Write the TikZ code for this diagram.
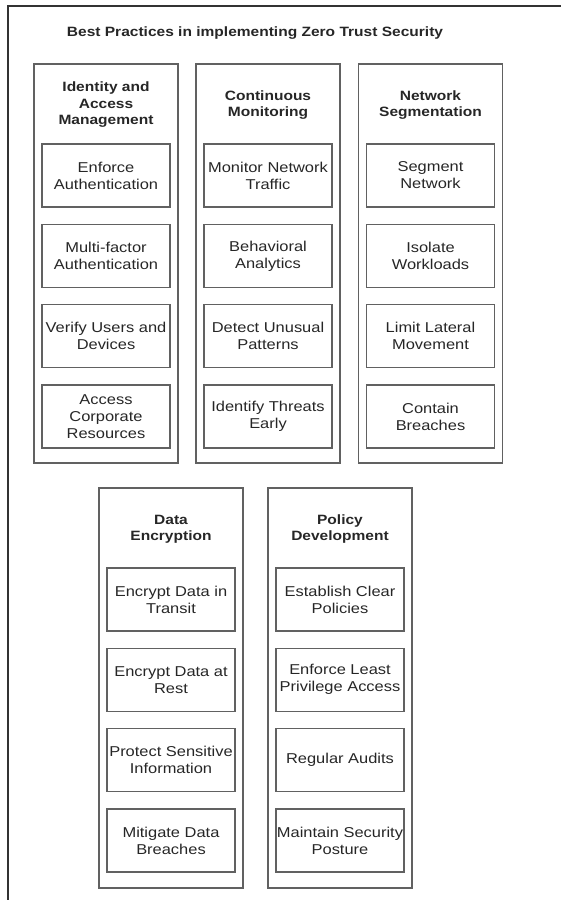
\documentclass[tikz,border=0pt]{standalone}
\usepackage{fontspec}
\setmainfont{Liberation Sans}[FakeStretch=1.15]
\usepackage{tikz}

\tikzset{
  group/.style={draw=black!62, line width=1.6pt, minimum width=144pt, minimum height=399pt, inner sep=0pt},
  item/.style={draw=black!62, line width=1.4pt, minimum width=128pt, minimum height=63pt,
    inner sep=0pt, align=center, text=black!85, font=\fontsize{14.3}{17}\selectfont},
  grouptitle/.style={align=center, text=black!85, font=\bfseries\fontsize{13.5}{16.5}\selectfont},
  maintitle/.style={text=black!85, font=\bfseries\fontsize{13.5}{16}\selectfont},
}

\begin{document}
\begin{tikzpicture}[x=1pt,y=-1pt]
		\useasboundingbox (0,0) rectangle (561,900);
		% spacing of the boxes inside a group
		\def\dy{80.3}
		\def\shift{424}
		
		% page frame (only top and left edge in view)
		\draw[line width=1.5pt, black!80] (561,6) -- (8,6) -- (8,900);
		\node[maintitle] (title) at (255,33) {Best Practices in implementing Zero Trust Security};
		
		% top row of groups
		\node[group] (iam) at (106,263.5) {};
		\node[group] (mon) at (268,263.5) {};
		\node[group] (seg) at (430.5,263.5) {};
		\node[grouptitle] (iamtitle) at (106,105) {Identity and\\Access\\Management};
		\node[grouptitle] (montitle) at (268,105) {Continuous\\Monitoring};
		\node[grouptitle] (segtitle) at (430.5,105) {Network\\Segmentation};
		
		\foreach \i/\txt in {1/{Enforce\\Authentication}, 2/{Multi-factor\\Authentication},
			3/{Verify Users and\\Devices}, 4/{Access\\Corporate\\Resources}}
		\node[item] (iam\i) at (106,{175.5+\dy*(\i-1)}) {\txt};
		\foreach \i/\txt in {1/{Monitor Network\\Traffic}, 2/{Behavioral\\Analytics},
			3/{Detect Unusual\\Patterns}, 4/{Identify Threats\\Early}}
		\node[item] (mon\i) at (268,{175.5+\dy*(\i-1)}) {\txt};
		\foreach \i/\txt in {1/{Segment\\Network}, 2/{Isolate\\Workloads},
			3/{Limit Lateral\\Movement}, 4/{Contain\\Breaches}}
		\node[item] (seg\i) at (430.5,{175.5+\dy*(\i-1)}) {\txt};
		
		% bottom row of groups
		\node[group, minimum height=400pt] (enc) at (171,688) {};
		\node[group, minimum height=400pt] (pol) at (340,688) {};
		\node[grouptitle] (enctitle) at (171,529) {Data\\Encryption};
		\node[grouptitle] (poltitle) at (340,529) {Policy\\Development};
		
		\foreach \i/\txt in {1/{Encrypt Data in\\Transit}, 2/{Encrypt Data at\\Rest},
			3/{Protect Sensitive\\Information}, 4/{Mitigate Data\\Breaches}}
		\node[item] (enc\i) at (171,{175.5+\shift+\dy*(\i-1)}) {\txt};
		\foreach \i/\txt in {1/{Establish Clear\\Policies}, 2/{Enforce Least\\Privilege Access},
			3/{Regular Audits}, 4/{Maintain Security\\Posture}}
		\node[item] (pol\i) at (340,{175.5+\shift+\dy*(\i-1)}) {\txt};
	\end{tikzpicture}
\end{document}
